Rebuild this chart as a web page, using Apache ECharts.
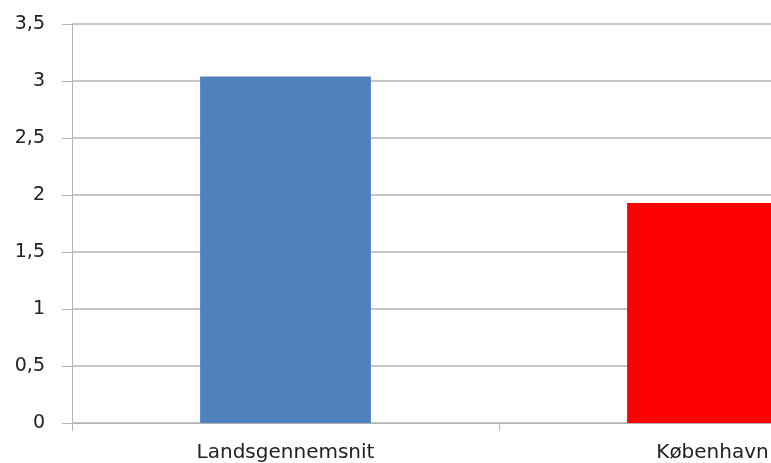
<!DOCTYPE html>
<html>
<head>
<meta charset="utf-8">
<script src="https://cdn.jsdelivr.net/npm/echarts@6/dist/echarts.min.js"></script>
<style>
html, body { margin: 0; padding: 0; background: #fff; overflow: hidden; width: 771px; height: 463px; }
#chart { width: 926px; height: 463px; }
</style>
</head>
<body>
<div id="chart"></div>
<script>
// data
var categories = ['Landsgennemsnit', 'København'];
var values = [3.04, 1.93];
var barColors = ['#4f81bd', '#ff0000'];

// chart is wider than the window: the second category is cut off at the right, as in the picture
var myChart = echarts.init(document.getElementById('chart'));
var option = {
	animation : false,
	grid : {
		left : 72,
		top : 24,
		bottom : 39,
		right : 0,
		containLabel : false
	},
	xAxis : {
		type : 'category',
		data : categories,
		axisLine : { lineStyle : { color : '#b3b3b3', width : 1 } },
		axisTick : { show : true, length : 8, lineStyle : { color : '#b3b3b3' } },
		axisLabel : {
			margin : 20,
			fontFamily : 'DejaVu Sans',
			fontSize : 20,
			color : '#222'
		}
	},
	yAxis : {
		type : 'value',
		min : 0,
		max : 3.5,
		interval : 0.5,
		axisLine : { show : true, lineStyle : { color : '#b3b3b3', width : 1 } },
		axisTick : { show : true, length : 10, lineStyle : { color : '#b3b3b3' } },
		splitLine : { lineStyle : { color : '#b3b3b3', width : 1.5 } },
		axisLabel : {
			margin : 27,
			fontFamily : 'DejaVu Sans',
			fontSize : 19,
			color : '#222',
			formatter : function (v) { return String(v).replace('.', ','); }
		}
	},
	series : [ {
		type : 'bar',
		barWidth : '40%',
		data : values.map(function (v, i) {
			return { value : v, itemStyle : { color : barColors[i] } };
		})
	} ]
};
myChart.setOption(option);
</script>
</body>
</html>
